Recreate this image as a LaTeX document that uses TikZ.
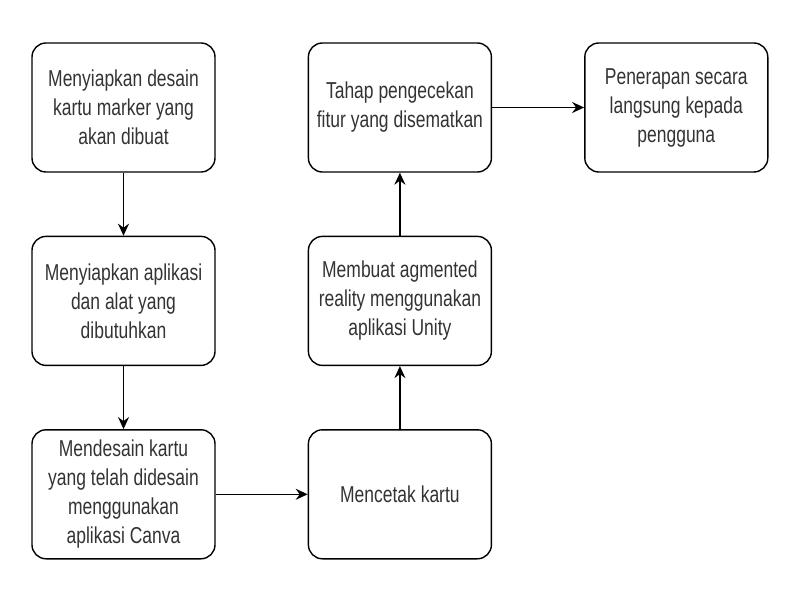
\documentclass[tikz,border=0pt]{standalone}
\usepackage{fontspec}
\setmainfont{Liberation Sans}[FakeStretch=0.76]
\usetikzlibrary{arrows.meta,positioning}
\newcommand{\boxw}{183pt}
\newcommand{\boxh}{129pt}

\begin{document}
\begin{tikzpicture}[x=1pt, y=1pt,
        stage/.style={draw, line width=1.4pt, rounded corners=14pt,
            minimum width=\boxw, minimum height=\boxh, align=center,
            text=black!80, font=\fontsize{23}{29}\selectfont, inner sep=2pt},
        flow/.style={-{Stealth[length=12pt,width=11pt,inset=4pt]}, line width=1.6pt}]
                \useasboundingbox (0,0) rectangle (800,600);
                %column 1
                \node[stage] (desain) at (123.5,492.5) {Menyiapkan desain\\kartu marker yang\\akan dibuat};
                \node[stage, below=63pt of desain] (aplikasi) {Menyiapkan aplikasi\\dan alat yang\\dibutuhkan};
                \node[stage, below=63pt of aplikasi] (kartu) {Mendesain kartu\\yang telah didesain\\menggunakan\\aplikasi Canva};
                %column 2
                \node[stage, right=92pt of kartu] (cetak) {Mencetak kartu};
                \node[stage, above=63pt of cetak] (unity) {Membuat agmented\\reality menggunakan\\aplikasi Unity};
                \node[stage, above=63pt of unity] (cek) {Tahap pengecekan\\fitur yang disematkan};
                %column 3
                \node[stage, right=92pt of cek] (terap) {Penerapan secara\\langsung kepada\\pengguna};

                \draw[flow] (desain) -- (aplikasi);
                \draw[flow] (aplikasi) -- (kartu);
                \draw[flow] (kartu) -- (cetak);
                \draw[flow] (cetak) -- (unity);
                \draw[flow] (unity) -- (cek);
                \draw[flow] (cek) -- (terap);
        \end{tikzpicture}
\end{document}
